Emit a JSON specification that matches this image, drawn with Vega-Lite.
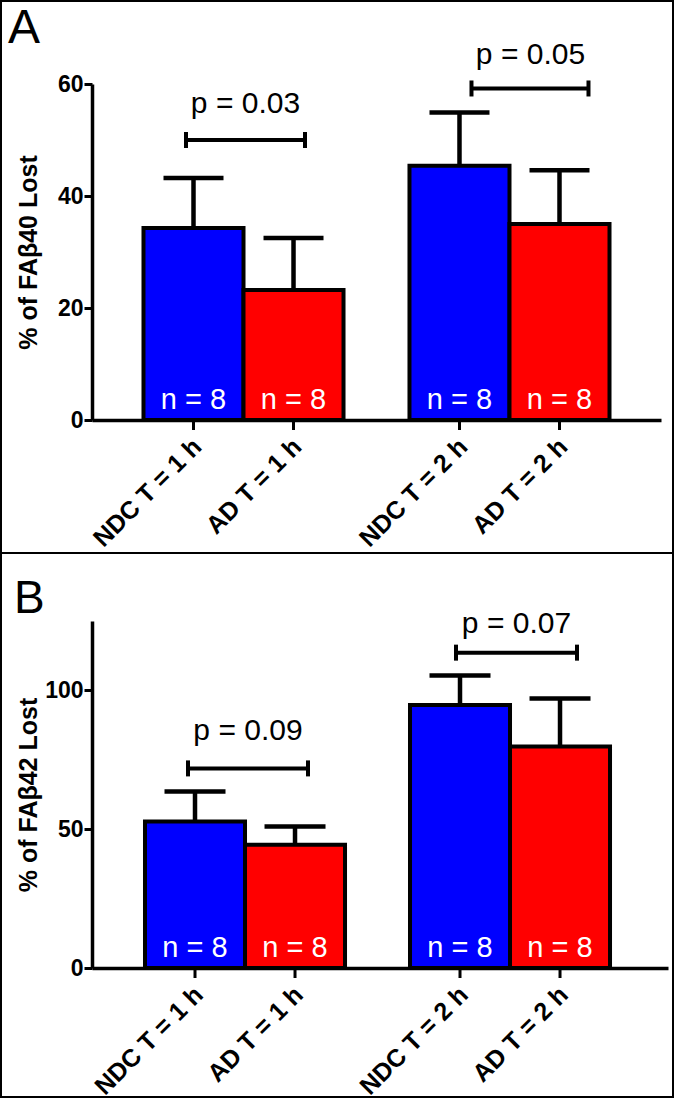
{
  "$schema": "https://vega.github.io/schema/vega-lite/v6.json",
  "background": "white",
  "padding": 0,
  "spacing": 201,
  "bounds": "flush",
  "config": {
    "font": "Liberation Sans",
    "view": {"stroke": null},
    "axis": {"domainColor": "black", "domainWidth": 3.5, "tickColor": "black", "tickWidth": 3, "tickSize": 8, "labelColor": "black", "labelFontSize": 22, "labelFontWeight": "bold", "labelPadding": 2, "titleColor": "black", "titleFontSize": 25, "titleFontWeight": "bold", "grid": false}
  },
  "datasets": {
    "A": [
      {"time": "1 h", "group": "NDC", "label": "NDC T = 1 h", "value": 34.3, "upper": 43.2, "n": "n = 8"},
      {"time": "1 h", "group": "AD", "label": "AD T = 1 h", "value": 23.2, "upper": 32.5, "n": "n = 8"},
      {"time": "2 h", "group": "NDC", "label": "NDC T = 2 h", "value": 45.4, "upper": 54.9, "n": "n = 8"},
      {"time": "2 h", "group": "AD", "label": "AD T = 2 h", "value": 35.0, "upper": 44.6, "n": "n = 8"}
    ],
    "B": [
      {"time": "1 h", "group": "NDC", "label": "NDC T = 1 h", "value": 52.8, "upper": 63.6, "n": "n = 8"},
      {"time": "1 h", "group": "AD", "label": "AD T = 1 h", "value": 44.4, "upper": 51.0, "n": "n = 8"},
      {"time": "2 h", "group": "NDC", "label": "NDC T = 2 h", "value": 94.7, "upper": 105.4, "n": "n = 8"},
      {"time": "2 h", "group": "AD", "label": "AD T = 2 h", "value": 79.8, "upper": 97.1, "n": "n = 8"}
    ],
    "pA": [
      {"time": "1 h", "y": 50.0, "p": "p = 0.03"},
      {"time": "2 h", "y": 59.2, "p": "p = 0.05"}
    ],
    "pB": [
      {"time": "1 h", "y": 71.9, "p": "p = 0.09"},
      {"time": "2 h", "y": 113.6, "p": "p = 0.07"}
    ]
  },
  "vconcat": [
    {
      "width": 569,
      "height": 336,
      "data": {"name": "A"},
      "layer": [
        {"data": {"values": [{}]}, "mark": {"type": "rect", "fill": null, "stroke": "black", "strokeWidth": 2}, "encoding": {"x": {"value": -91}, "x2": {"value": 581}, "y": {"value": -83}, "y2": {"value": 469}}},
        {"mark": {"type": "tick", "orient": "vertical", "size": 20, "thickness": 3, "color": "black", "opacity": 1},
         "encoding": {"x": {"field": "time", "type": "nominal", "title": null}, "xOffset": {"field": "group", "type": "nominal"}, "y": {"datum": 0, "type": "quantitative", "title": "% of FAβ40 Lost"}}},
        {"mark": {"type": "rule", "strokeWidth": 4.5, "color": "black"},
         "encoding": {"x": {"field": "time", "type": "nominal", "title": null}, "xOffset": {"field": "group", "type": "nominal"}, "y": {"field": "value", "type": "quantitative", "title": "% of FAβ40 Lost"}, "y2": {"field": "upper"}}},
        {"mark": {"type": "tick", "size": 60, "thickness": 4.5, "color": "black", "opacity": 1},
         "encoding": {"x": {"field": "time", "type": "nominal", "title": null}, "xOffset": {"field": "group", "type": "nominal"}, "y": {"field": "upper", "type": "quantitative", "title": "% of FAβ40 Lost"}}},
        {"mark": {"type": "bar", "stroke": "black", "strokeWidth": 4},
         "encoding": {
           "x": {"field": "time", "type": "nominal", "title": null, "scale": {"domain": ["1 h", "2 h"], "paddingInner": 0.248, "paddingOuter": 0.1936}, "axis": {"labels": false, "ticks": false, "title": null, "domainColor": "black", "domainWidth": 3.5}},
           "xOffset": {"field": "group", "type": "nominal", "scale": {"domain": ["NDC", "AD"], "paddingInner": 0, "paddingOuter": 0}},
           "y": {"field": "value", "type": "quantitative", "title": "% of FAβ40 Lost", "scale": {"domain": [0, 60], "nice": false}, "axis": {"values": [0, 20, 40, 60], "titlePadding": 16, "domainColor": "black", "domainWidth": 3.5, "tickColor": "black", "tickWidth": 3, "tickSize": 8, "labelColor": "black", "labelFontSize": 23, "labelFontWeight": "bold", "labelFont": "Liberation Sans", "labelPadding": 1, "titleColor": "black", "titleFontSize": 25, "titleFontWeight": "bold", "titleFont": "Liberation Sans"}},
           "color": {"field": "group", "type": "nominal", "scale": {"domain": ["NDC", "AD"], "range": ["#0000FF", "#FF0000"]}, "legend": null}
         }},
        {"mark": {"type": "text", "color": "white", "fontSize": 29, "baseline": "alphabetic", "dy": -11},
         "encoding": {"x": {"field": "time", "type": "nominal", "title": null}, "xOffset": {"field": "group", "type": "nominal"}, "y": {"datum": 0, "type": "quantitative", "title": "% of FAβ40 Lost"}, "text": {"field": "n"}}},
        {"mark": {"type": "text", "color": "black", "fontSize": 25, "fontWeight": "bold", "angle": -45, "align": "right", "baseline": "middle", "dx": -13.4, "dy": 19},
         "encoding": {"x": {"field": "time", "type": "nominal", "title": null}, "xOffset": {"field": "group", "type": "nominal"}, "y": {"datum": 0, "type": "quantitative", "title": "% of FAβ40 Lost"}, "text": {"field": "label"}}},
        {"data": {"name": "pA"}, "transform": [{"filter": "datum.time == '1 h'"}],
         "layer": [
           {"mark": {"type": "tick", "size": 119, "thickness": 4, "color": "black", "opacity": 1}, "encoding": {"x": {"field": "time", "type": "nominal", "title": null}, "xOffset": {"value": 102}, "y": {"field": "y", "type": "quantitative", "title": "% of FAβ40 Lost"}}},
           {"mark": {"type": "tick", "orient": "vertical", "size": 16, "thickness": 4, "color": "black", "opacity": 1}, "encoding": {"x": {"field": "time", "type": "nominal", "title": null}, "xOffset": {"value": 42.5}, "y": {"field": "y", "type": "quantitative", "title": "% of FAβ40 Lost"}}},
           {"mark": {"type": "tick", "orient": "vertical", "size": 16, "thickness": 4, "color": "black", "opacity": 1}, "encoding": {"x": {"field": "time", "type": "nominal", "title": null}, "xOffset": {"value": 161.5}, "y": {"field": "y", "type": "quantitative", "title": "% of FAβ40 Lost"}}},
           {"mark": {"type": "text", "fontSize": 30, "baseline": "alphabetic", "dy": -27, "color": "black"}, "encoding": {"x": {"field": "time", "type": "nominal", "title": null}, "xOffset": {"value": 102}, "y": {"field": "y", "type": "quantitative", "title": "% of FAβ40 Lost"}, "text": {"field": "p"}}}
         ]},
        {"data": {"name": "pA"}, "transform": [{"filter": "datum.time == '2 h'"}],
         "layer": [
           {"mark": {"type": "tick", "size": 117, "thickness": 4, "color": "black", "opacity": 1}, "encoding": {"x": {"field": "time", "type": "nominal", "title": null}, "xOffset": {"value": 120.5}, "y": {"field": "y", "type": "quantitative", "title": "% of FAβ40 Lost"}}},
           {"mark": {"type": "tick", "orient": "vertical", "size": 16, "thickness": 4, "color": "black", "opacity": 1}, "encoding": {"x": {"field": "time", "type": "nominal", "title": null}, "xOffset": {"value": 62}, "y": {"field": "y", "type": "quantitative", "title": "% of FAβ40 Lost"}}},
           {"mark": {"type": "tick", "orient": "vertical", "size": 16, "thickness": 4, "color": "black", "opacity": 1}, "encoding": {"x": {"field": "time", "type": "nominal", "title": null}, "xOffset": {"value": 179}, "y": {"field": "y", "type": "quantitative", "title": "% of FAβ40 Lost"}}},
           {"mark": {"type": "text", "fontSize": 30, "baseline": "alphabetic", "dy": -24, "color": "black"}, "encoding": {"x": {"field": "time", "type": "nominal", "title": null}, "xOffset": {"value": 121}, "y": {"field": "y", "type": "quantitative", "title": "% of FAβ40 Lost"}, "text": {"field": "p"}}}
         ]},
        {"data": {"values": [{}]}, "mark": {"type": "text", "text": "A", "fontSize": 48, "align": "left", "baseline": "alphabetic", "color": "black"}, "encoding": {"x": {"value": -84}, "y": {"value": -41}}}
      ]
    },
    {
      "width": 576,
      "height": 347,
      "data": {"name": "B"},
      "layer": [
        {"data": {"values": [{}]}, "mark": {"type": "rect", "fill": null, "stroke": "black", "strokeWidth": 2}, "encoding": {"x": {"value": -91}, "x2": {"value": 581}, "y": {"value": -68}, "y2": {"value": 476}}},
        {"mark": {"type": "tick", "orient": "vertical", "size": 20, "thickness": 3, "color": "black", "opacity": 1},
         "encoding": {"x": {"field": "time", "type": "nominal", "title": null}, "xOffset": {"field": "group", "type": "nominal"}, "y": {"datum": 0, "type": "quantitative", "title": "% of FAβ42 Lost"}}},
        {"mark": {"type": "rule", "strokeWidth": 4.5, "color": "black"},
         "encoding": {"x": {"field": "time", "type": "nominal", "title": null}, "xOffset": {"field": "group", "type": "nominal"}, "y": {"field": "value", "type": "quantitative", "title": "% of FAβ42 Lost"}, "y2": {"field": "upper"}}},
        {"mark": {"type": "tick", "size": 61, "thickness": 4.5, "color": "black", "opacity": 1},
         "encoding": {"x": {"field": "time", "type": "nominal", "title": null}, "xOffset": {"field": "group", "type": "nominal"}, "y": {"field": "upper", "type": "quantitative", "title": "% of FAβ42 Lost"}}},
        {"mark": {"type": "bar", "stroke": "black", "strokeWidth": 4},
         "encoding": {
           "x": {"field": "time", "type": "nominal", "title": null, "scale": {"domain": ["1 h", "2 h"], "paddingInner": 0.2264, "paddingOuter": 0.2}, "axis": {"labels": false, "ticks": false, "title": null, "domainColor": "black", "domainWidth": 3.5}},
           "xOffset": {"field": "group", "type": "nominal", "scale": {"domain": ["NDC", "AD"], "paddingInner": 0, "paddingOuter": 0}},
           "y": {"field": "value", "type": "quantitative", "title": "% of FAβ42 Lost", "scale": {"domain": [0, 125], "nice": false}, "axis": {"values": [0, 50, 100], "titlePadding": 3, "domainColor": "black", "domainWidth": 3.5, "tickColor": "black", "tickWidth": 3, "tickSize": 8, "labelColor": "black", "labelFontSize": 23, "labelFontWeight": "bold", "labelFont": "Liberation Sans", "labelPadding": 1, "titleColor": "black", "titleFontSize": 25, "titleFontWeight": "bold", "titleFont": "Liberation Sans"}},
           "color": {"field": "group", "type": "nominal", "scale": {"domain": ["NDC", "AD"], "range": ["#0000FF", "#FF0000"]}, "legend": null}
         }},
        {"mark": {"type": "text", "color": "white", "fontSize": 29, "baseline": "alphabetic", "dy": -11},
         "encoding": {"x": {"field": "time", "type": "nominal", "title": null}, "xOffset": {"field": "group", "type": "nominal"}, "y": {"datum": 0, "type": "quantitative", "title": "% of FAβ42 Lost"}, "text": {"field": "n"}}},
        {"mark": {"type": "text", "color": "black", "fontSize": 25, "fontWeight": "bold", "angle": -45, "align": "right", "baseline": "middle", "dx": -13.4, "dy": 19},
         "encoding": {"x": {"field": "time", "type": "nominal", "title": null}, "xOffset": {"field": "group", "type": "nominal"}, "y": {"datum": 0, "type": "quantitative", "title": "% of FAβ42 Lost"}, "text": {"field": "label"}}},
        {"data": {"name": "pB"}, "transform": [{"filter": "datum.time == '1 h'"}],
         "layer": [
           {"mark": {"type": "tick", "size": 120, "thickness": 4, "color": "black", "opacity": 1}, "encoding": {"x": {"field": "time", "type": "nominal", "title": null}, "xOffset": {"value": 103}, "y": {"field": "y", "type": "quantitative", "title": "% of FAβ42 Lost"}}},
           {"mark": {"type": "tick", "orient": "vertical", "size": 16, "thickness": 4, "color": "black", "opacity": 1}, "encoding": {"x": {"field": "time", "type": "nominal", "title": null}, "xOffset": {"value": 43}, "y": {"field": "y", "type": "quantitative", "title": "% of FAβ42 Lost"}}},
           {"mark": {"type": "tick", "orient": "vertical", "size": 16, "thickness": 4, "color": "black", "opacity": 1}, "encoding": {"x": {"field": "time", "type": "nominal", "title": null}, "xOffset": {"value": 163}, "y": {"field": "y", "type": "quantitative", "title": "% of FAβ42 Lost"}}},
           {"mark": {"type": "text", "fontSize": 30, "baseline": "alphabetic", "dy": -28, "color": "black"}, "encoding": {"x": {"field": "time", "type": "nominal", "title": null}, "xOffset": {"value": 103}, "y": {"field": "y", "type": "quantitative", "title": "% of FAβ42 Lost"}, "text": {"field": "p"}}}
         ]},
        {"data": {"name": "pB"}, "transform": [{"filter": "datum.time == '2 h'"}],
         "layer": [
           {"mark": {"type": "tick", "size": 121, "thickness": 4, "color": "black", "opacity": 1}, "encoding": {"x": {"field": "time", "type": "nominal", "title": null}, "xOffset": {"value": 106.5}, "y": {"field": "y", "type": "quantitative", "title": "% of FAβ42 Lost"}}},
           {"mark": {"type": "tick", "orient": "vertical", "size": 16, "thickness": 4, "color": "black", "opacity": 1}, "encoding": {"x": {"field": "time", "type": "nominal", "title": null}, "xOffset": {"value": 46}, "y": {"field": "y", "type": "quantitative", "title": "% of FAβ42 Lost"}}},
           {"mark": {"type": "tick", "orient": "vertical", "size": 16, "thickness": 4, "color": "black", "opacity": 1}, "encoding": {"x": {"field": "time", "type": "nominal", "title": null}, "xOffset": {"value": 167}, "y": {"field": "y", "type": "quantitative", "title": "% of FAβ42 Lost"}}},
           {"mark": {"type": "text", "fontSize": 30, "baseline": "alphabetic", "dy": -20, "color": "black"}, "encoding": {"x": {"field": "time", "type": "nominal", "title": null}, "xOffset": {"value": 106.5}, "y": {"field": "y", "type": "quantitative", "title": "% of FAβ42 Lost"}, "text": {"field": "p"}}}
         ]},
        {"data": {"values": [{}]}, "mark": {"type": "text", "text": "B", "fontSize": 46, "align": "left", "baseline": "alphabetic", "color": "black"}, "encoding": {"x": {"value": -78}, "y": {"value": -8}}}
      ]
    }
  ]
}
